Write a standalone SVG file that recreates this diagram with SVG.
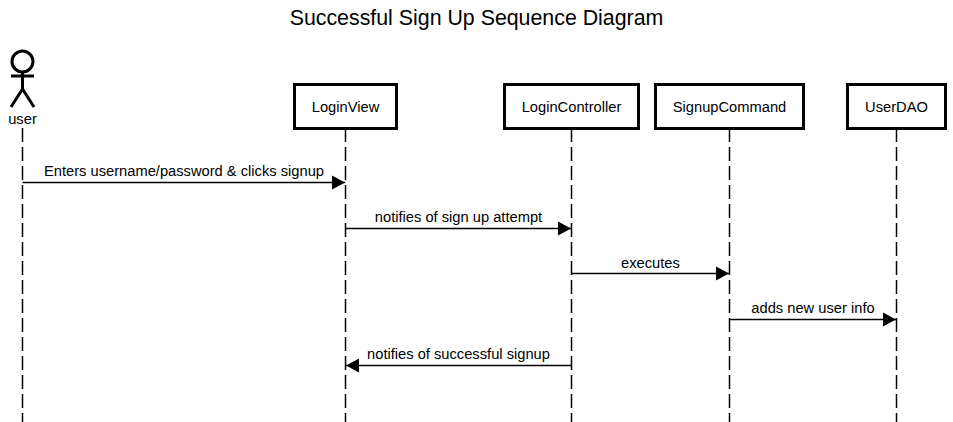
<svg xmlns="http://www.w3.org/2000/svg" width="953" height="422" viewBox="0 0 953 422">
<style>
text{font-family:"Liberation Sans",Arial,sans-serif;font-size:14.7px;fill:#000;text-anchor:middle}
.title{font-size:21.35px}
.box{fill:#fff;stroke:#000;stroke-width:3}
.life{stroke:#000;stroke-width:1.5;stroke-dasharray:14 5;fill:none}
.msg{stroke:#000;stroke-width:1.5;fill:none}
.actor{stroke:#000;stroke-width:3;fill:none}
</style>
<defs>
<marker id="arrow" markerUnits="userSpaceOnUse" markerWidth="14" markerHeight="15" refX="13" refY="7.5" orient="auto"><path d="M0 0.500L13 7.500L0 14.500Z" fill="#000"/></marker>
</defs>
<rect width="953" height="422" fill="#fff"/>
<text class="title" x="476.500" y="25">Successful Sign Up Sequence Diagram</text>
<g id="connectors">
<path class="life" d="M22.500 128V422"/>
<path class="life" d="M345.500 128V422"/>
<path class="life" d="M571.500 128V422"/>
<path class="life" d="M729.500 128V422"/>
<path class="life" d="M896.500 128V422"/>
<path class="msg" d="M22.500 182.500H345" marker-end="url(#arrow)"/>
<path class="msg" d="M345.500 228.500H571" marker-end="url(#arrow)"/>
<path class="msg" d="M571.500 273.500H729" marker-end="url(#arrow)"/>
<path class="msg" d="M729.500 319.500H896" marker-end="url(#arrow)"/>
<path class="msg" d="M571.500 365.500H346" marker-end="url(#arrow)"/>
<text x="184" y="176">Enters username/password &amp; clicks signup</text>
<text x="458.500" y="222">notifies of sign up attempt</text>
<text x="650.500" y="268">executes</text>
<text x="813" y="313">adds new user info</text>
<text x="458.500" y="359">notifies of successful signup</text>
</g>
<g id="user">
<circle class="actor" cx="22.500" cy="61.500" r="10.500"/>
<path class="actor" d="M22.500 72V89M11 76H34M22.500 89L11 107M22.500 89L34 107"/>
<text x="22.500" y="124">user</text>
</g>
<g id="LoginView"><rect class="box" x="294.500" y="84.500" width="102" height="44"/><text x="345.500" y="112">LoginView</text></g>
<g id="LoginController"><rect class="box" x="504.500" y="84.500" width="134" height="44"/><text x="571.500" y="112">LoginController</text></g>
<g id="SignupCommand"><rect class="box" x="655.500" y="84.500" width="148" height="44"/><text x="729.500" y="112">SignupCommand</text></g>
<g id="UserDAO"><rect class="box" x="847.500" y="84.500" width="98" height="44"/><text x="896.500" y="112">UserDAO</text></g>
</svg>
